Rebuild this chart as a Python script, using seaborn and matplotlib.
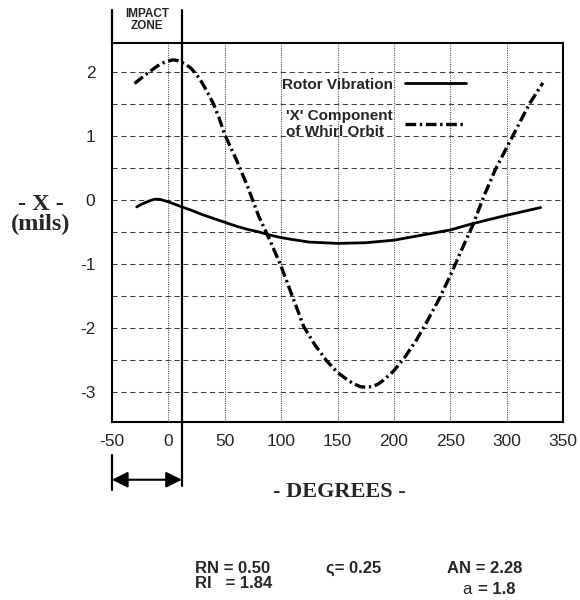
import numpy as np
import pandas as pd
import matplotlib
matplotlib.use('Agg')
import matplotlib.pyplot as plt
import seaborn as sns
from matplotlib.ticker import MultipleLocator

# Rotor vibration (solid line)
rotor_deg = [-28, -24, -20, -16, -12, -8, -4, 0, 6, 12, 20, 30, 40, 50, 60,
             70, 80, 90, 100, 110, 125, 150, 175, 200, 225, 250, 270, 300, 330]
rotor_x = [-0.11, -0.07, -0.04, -0.01, 0.01, 0.01, -0.01, -0.03, -0.07, -0.11,
           -0.16, -0.23, -0.29, -0.35, -0.41, -0.46, -0.50, -0.55, -0.59,
           -0.62, -0.66, -0.68, -0.67, -0.63, -0.55, -0.47, -0.37, -0.24, -0.12]

# 'X' component of whirl orbit (dash-dot line)
whirl_deg = [-30, -20, -10, -5, 0, 4, 8, 12, 16, 20, 25, 30, 35, 40, 45, 50,
             60, 70, 80, 90, 100, 110, 120, 130, 140, 150, 160, 165, 170, 175,
             180, 185, 190, 200, 210, 220, 230, 240, 250, 260, 270, 280, 290,
             300, 310, 320, 332]
whirl_x = [1.82, 1.96, 2.09, 2.14, 2.17, 2.19, 2.18, 2.15, 2.11, 2.06, 1.96,
           1.83, 1.67, 1.50, 1.28, 1.02, 0.64, 0.22, -0.25, -0.63, -1.04,
           -1.51, -1.98, -2.27, -2.51, -2.70, -2.83, -2.88, -2.92, -2.93,
           -2.92, -2.89, -2.83, -2.67, -2.45, -2.19, -1.88, -1.55, -1.18,
           -0.78, -0.39, 0.07, 0.48, 0.82, 1.16, 1.50, 1.83]

impact_edge = 12
x_ticks = [-50, 0, 50, 100, 150, 200, 250, 300, 350]
y_ticks = [-3, -2, -1, 0, 1, 2]

rotor_df = pd.DataFrame({'deg': rotor_deg, 'x': rotor_x})
whirl_df = pd.DataFrame({'deg': whirl_deg, 'x': whirl_x})

sns.set_style('white')
plt.rcParams['font.family'] = ['Liberation Sans', 'DejaVu Sans']
plt.rcParams['axes.unicode_minus'] = False

fig = plt.figure(figsize=(5.8, 6.0), dpi=100)
ax = fig.add_axes([0.193, 0.297, 0.778, 0.631])

sns.lineplot(data=rotor_df, x='deg', y='x', ax=ax, color='black', lw=2.0,
             sort=False, label='Rotor Vibration')
sns.lineplot(data=whirl_df, x='deg', y='x', ax=ax, color='black', lw=2.4,
             sort=False, linestyle=(0, (3.2, 1.1, 0.7, 1.1)),
             label="'X' Component\nof Whirl Orbit")

ax.set_xlim(-50, 350)
ax.set_ylim(-3.47, 2.45)
ax.set_xticks(x_ticks)
ax.set_yticks(y_ticks)
ax.yaxis.set_minor_locator(MultipleLocator(0.5))
ax.tick_params(axis='both', which='both', length=0, labelsize=12.5)
ax.tick_params(axis='y', pad=12)
ax.tick_params(axis='x', pad=9)

ax.yaxis.grid(True, which='both', color='0.25', lw=0.75, linestyle=(0, (5, 3.5)))
ax.xaxis.grid(True, which='major', color='0.3', lw=0.75, linestyle=(0, (1, 1.2)))
ax.set_axisbelow(True)

for s in ax.spines.values():
    s.set_color('black')
    s.set_linewidth(1.5)

ax.set_xlabel('')
ax.set_ylabel('')

# impact zone markers
ax.axvline(impact_edge, ymin=-0.17, ymax=1.087, color='black', lw=1.6, clip_on=False)
ax.axvline(-50, ymin=1.0, ymax=1.087, color='black', lw=1.6, clip_on=False)
ax.axvline(-50, ymin=-0.18, ymax=-0.087, color='black', lw=1.6, clip_on=False)
ax.annotate('', xy=(-50, -0.153), xytext=(impact_edge, -0.153),
            xycoords=('data', 'axes fraction'), textcoords=('data', 'axes fraction'),
            arrowprops=dict(arrowstyle='<|-|>', color='black', lw=1.5,
                            mutation_scale=24, shrinkA=0, shrinkB=0))
ax.text(-19, 1.06, 'IMPACT\nZONE', transform=ax.get_xaxis_transform(),
        ha='center', va='center', fontsize=8.5, fontweight='bold',
        linespacing=1.0)

leg = ax.legend(loc='upper right', bbox_to_anchor=(0.815, 0.945), frameon=False,
                markerfirst=False, handlelength=4.0, labelspacing=1.1,
                prop={'family': 'Liberation Sans', 'weight': 'bold', 'size': 11})

fig.text(0.07, 0.643, '- X -\n(mils)', ha='center', va='center',
         fontsize=17.5, fontweight='bold', family='Liberation Serif', linespacing=0.95)
fig.text(0.585, 0.18, '- DEGREES -', ha='center', va='center',
         fontsize=16, fontweight='bold', family='Liberation Serif')

fig.text(0.337, 0.04, 'RN = 0.50\nRI   = 1.84', ha='left', va='center',
         fontsize=12, fontweight='bold', linespacing=1.0)
fig.text(0.562, 0.053, 'ς= 0.25', ha='left', va='center',
         fontsize=12, fontweight='bold')
fig.text(0.771, 0.053, 'AN = 2.28', ha='left', va='center',
         fontsize=12, fontweight='bold')
fig.text(0.797, 0.018, 'a', ha='left', va='center', fontsize=12)
fig.text(0.824, 0.018, '= 1.8', ha='left', va='center', fontsize=12, fontweight='bold')

fig.savefig('out.png', dpi=100)
